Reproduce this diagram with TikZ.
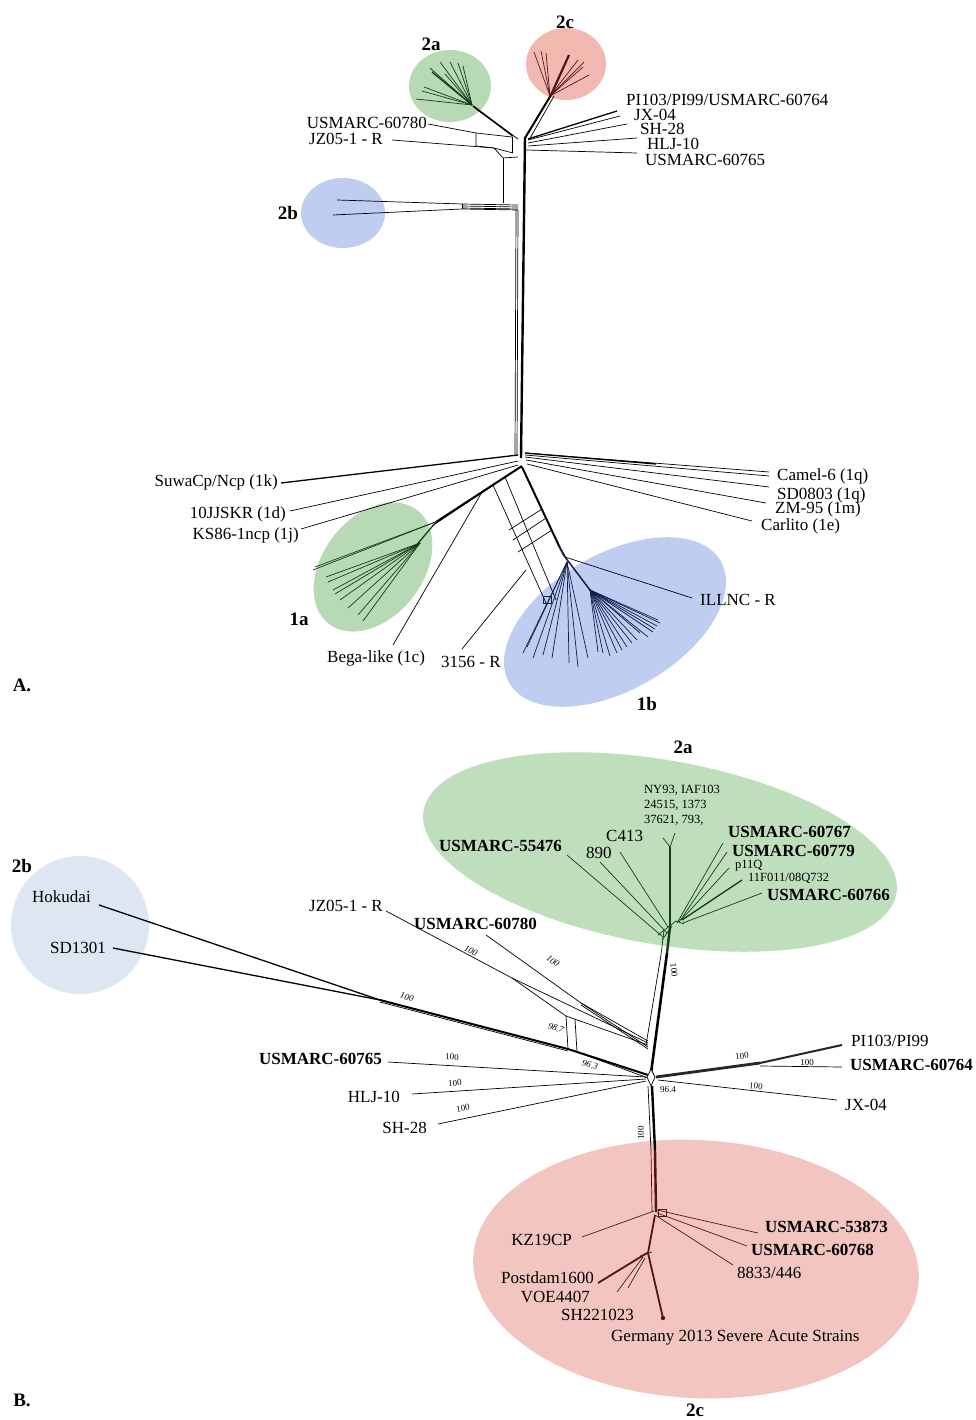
\documentclass[tikz,border=0pt]{standalone}
\usepackage{fontspec}
\setmainfont{Liberation Serif}
\definecolor{gA}{RGB}{183,218,180}
\definecolor{rA}{RGB}{242,185,176}
\definecolor{bA}{RGB}{190,205,240}
\definecolor{gB}{RGB}{190,222,188}
\definecolor{bB}{RGB}{222,230,242}
\definecolor{rB}{RGB}{243,197,192}
\definecolor{dg}{RGB}{20,60,25}
\definecolor{dr}{RGB}{85,20,20}
\definecolor{db}{RGB}{15,30,75}
\begin{document}
\begin{tikzpicture}[x=1pt,y=-1pt,
  lbl/.style={font=\fontsize{17}{17}\selectfont, inner sep=0pt},
  blbl/.style={font=\fontsize{17}{17}\selectfont\bfseries, inner sep=0pt},
  slbl/.style={font=\fontsize{12.5}{15}\selectfont, inner sep=0pt},
  grp/.style={font=\fontsize{19}{19}\selectfont\bfseries, inner sep=0pt},
  boot/.style={font=\fontsize{9}{9}\selectfont, inner sep=0pt},
  bootit/.style={font=\fontsize{9}{9}\selectfont\itshape, inner sep=0pt},
  br/.style={line width=0.7pt},
  brm/.style={line width=1.3pt},
  brt/.style={line width=2.2pt},
]
\useasboundingbox (0,0) rectangle (976,1420);
\fill[white] (0,0) rectangle (976,1420);

% ================= PANEL A =================
% groups
\fill[rA] (566,64) ellipse [x radius=40pt, y radius=36pt];
\fill[gA] (450,86) ellipse [x radius=41pt, y radius=36pt];
\fill[bA] (343,213) ellipse [x radius=42pt, y radius=35pt];
\fill[gA, rotate around={52:(373,567)}] (373,567) ellipse [x radius=72pt, y radius=50pt];
\fill[bA, rotate around={30:(615,622)}] (615,622) ellipse [x radius=122pt, y radius=68pt];

% trunk
\draw[line width=2.4pt] (525,137) -- (521,458);
\draw[br] (518,210) -- (517,456);
\draw[br] (516,210) -- (515,456);

% 2c branch
\draw[line width=2pt] (525,138) -- (551,95);
\draw[br] (529,140) -- (554,96);
\draw[line width=2.2pt, dr] (551,95) -- (569,55);
\foreach \e in {(534,52),(541,51),(546,53),(578,60),(584,62),(583,67),(589,75)}
  \draw[br, dr] (550,96) -- \e;

% 2a branch
\draw[line width=1.6pt] (513,136) -- (473,106);
\draw[br] (518,139) -- (476,109);
\foreach \e in {(430,68),(440,62),(450,62),(458,63),(463,66),(445,74),(424,87),(422,91),(416,99)}
  \draw[br, dg] (472,105) -- \e;
\draw[line width=1.4pt, dg] (472,105) -- (432,72);

% right labels top
\node[lbl,anchor=west] (aPI) at (626,100) {PI103/PI99/USMARC-60764};
\node[lbl,anchor=west] (aJX) at (634,115) {JX-04};
\node[lbl,anchor=west] (aSH) at (640,129) {SH-28};
\node[lbl,anchor=west] (aHLJ) at (647,144) {HLJ-10};
\node[lbl,anchor=west] (a65) at (645,160) {USMARC-60765};
\draw[brm] (528,139) -- (617,111);
\draw[br] (528,140) -- (620,116);
\draw[br] (528,143) -- (627,124);
\draw[br] (528,146) -- (637,138);
\draw[br] (526,150) -- (637,153);

% left labels top
\node[lbl,anchor=east] (a80) at (427,123) {USMARC-60780};
\node[lbl,anchor=east] (aJZ) at (383,139) {JZ05-1 - R};
\draw[br] (428,124) -- (476,133) -- (512,137);
\draw[br] (392,140) -- (494,148) -- (513,153);
\draw[br] (476,133) -- (476,146) -- (494,148);
\draw[br] (512,137) -- (512,153);
\draw[br] (494,148) -- (503,158) -- (518,157);
\draw[br] (503,158) -- (503,203);

% 2b branch A
\draw[br] (337,200) -- (462,204) -- (518,205);
\draw[br] (333,215) -- (462,209) -- (518,210);
\draw[br] (462,204) -- (462,209);
\draw[br] (462,206) -- (518,207);
\draw[br] (462,208) -- (518,209);

% bottom hub
\node[lbl,anchor=east] (aSuwa) at (278,482) {SuwaCp/Ncp (1k)};
\node[lbl,anchor=east] (a10J) at (286,514) {10JJSKR (1d)};
\node[lbl,anchor=east] (aKS) at (299,535) {KS86-1ncp (1j)};
\draw[brm] (281,483) -- (518,455);
\draw[br] (290,511) -- (518,461);
\draw[br] (301,529) -- (518,465);

\node[lbl,anchor=west] (aCam) at (777,476) {Camel-6 (1q)};
\node[lbl,anchor=west] (aSD) at (777,495) {SD0803 (1q)};
\node[lbl,anchor=west] (aZM) at (775,509) {ZM-95 (1m)};
\node[lbl,anchor=west] (aCar) at (761,526) {Carlito (1e)};
\draw[brm] (525,453) -- (656,464);
\draw[br] (525,453) -- (769,472);
\draw[br] (525,455) -- (769,476);
\draw[br] (525,457) -- (769,487);
\draw[br] (526,460) -- (766,503);
\draw[br] (527,464) -- (752,521);

% 1a
\draw[line width=2pt] (522,466) -- (436,522);
\draw[br] (516,470) -- (432,526);
\foreach \e in {(313,570),(315,567)}
  \draw[br, dg] (438,521) -- \e;
\draw[line width=1.3pt, dg] (436,522) -- (414,548);
\foreach \e in {(326,577),(328,582),(333,590),(335,594),(340,600),(348,608),(358,615),(363,621)}
  \draw[br, dg] (420,543) -- \e;

% reticulation 1c / 3156
\node[lbl,anchor=west] (aBega) at (327,658) {Bega-like (1c)};
\node[lbl,anchor=west] (a3156) at (441,662) {3156 - R};
\draw[br] (393,645) -- (482,492);
\draw[br] (493,485) -- (546,603);
\draw[br] (505,477) -- (556,600);
\draw[br] (509,530) -- (542,509);
\draw[br] (513,540) -- (546,518);
\draw[br] (518,552) -- (552,530);
\draw[br] (462,649) -- (526,570);

% 1b
\draw[line width=2pt] (522,467) -- (560,548);
\draw[line width=2pt, db] (560,548) -- (565,557);
\node[lbl,anchor=west] (aILL) at (700,600) {ILLNC - R};
\draw[br] (565,557) -- (692,598);
\draw[line width=1.5pt, db] (565,557) -- (590,590);
\foreach \e in {(523,653),(527,647),(533,658),(543,655),(552,658),(569,663),(578,667),(588,658)}
  \draw[br, db] (567,562) -- \e;
\foreach \e in {(658,620),(660,623),(657,626),(655,629),(653,632),(648,637),(640,633),(637,640),(632,643),(627,647),(622,650),(617,653),(610,656),(603,653),(598,652)}
  \draw[br, db] (590,590) -- \e;
\draw[br, db] (543,596) rectangle (551,603);

% group labels A
\node[grp] (l2cA) at (565,22) {2c};
\node[grp] (l2aA) at (431,44) {2a};
\node[grp] (l2bA) at (288,213) {2b};
\node[grp] (l1a) at (299,619) {1a};
\node[grp] (l1b) at (647,704) {1b};
\node[grp] (lA) at (22,685) {A.};

% ================= PANEL B =================
\fill[gB, rotate around={-10:(660,852)}] (660,852) ellipse [x radius=240pt, y radius=92pt];
\fill[bB] (80,925) circle [radius=69pt];
\fill[rB, rotate around={-3:(696,1269)}] (696,1269) ellipse [x radius=223pt, y radius=129pt];

% trunk
\draw[line width=2.6pt] (651,1073) -- (667,953);
\draw[br] (646,1045) -- (661,955);
\draw[line width=2.4pt, dg] (667,953) -- (670,927);
\draw[br, dg] (661,955) -- (664,930);

% 2a cluster
\draw[line width=2.2pt, dg] (670,927) -- (670,847);
\draw[br, dg] (670,847) -- (663,838);
\draw[br, dg] (670,847) -- (675,833);
\node[slbl, anchor=north west, align=left] (bNY) at (644,785) {NY93, IAF103\\24515, 1373\\37621, 793,};
\node[blbl,anchor=east] (b55) at (562,846) {USMARC-55476};
\node[lbl,anchor=west] (b890) at (586,853) {890};
\node[lbl,anchor=west] (bC413) at (606,836) {C413};
\node[blbl,anchor=west] (b67) at (728,832) {USMARC-60767};
\node[blbl,anchor=west] (b79) at (732,851) {USMARC-60779};
\node[slbl,anchor=west] (bp11) at (735,866) {p11Q};
\node[slbl,anchor=west] (b11F) at (748,878) {11F011/08Q732};
\node[blbl,anchor=west] (b66) at (767,895) {USMARC-60766};
\draw[br, dg] (567,855) -- (663,937);
\draw[br, dg] (600,862) -- (667,933);
\draw[br, dg] (620,852) -- (668,927);
\draw[br, dg] (723,843) -- (677,923);
\draw[br, dg] (727,852) -- (679,922);
\draw[br, dg] (729,868) -- (681,920);
\draw[brm, dg] (742,880) -- (682,920);
\draw[br, dg] (762,893) -- (683,923);
\draw[br, dg] (658,935) -- (676,921) -- (684,924);
\draw[br, dg] (662,940) -- (672,926);

% 2b branch B
\node[lbl,anchor=west] (bHok) at (32,897) {Hokudai};
\node[lbl,anchor=west] (bSD) at (50,948) {SD1301};
\draw[brm] (99,905) -- (380,1000);
\draw[brm] (113,948) -- (380,1000);
\draw[line width=2pt] (380,1000) -- (568,1049) -- (648,1075);
\draw[br] (380,1002) -- (568,1051);

% JZ05 / 60780
\node[lbl,anchor=east] (bJZ) at (383,906) {JZ05-1 - R};
\node[blbl,anchor=west] (b80) at (414,924) {USMARC-60780};
\draw[br] (386,911) -- (512,978) -- (648,1043);
\draw[br] (512,978) -- (566,1016) -- (648,1045);
\draw[br] (486,935) -- (581,1003) -- (648,1041);
\draw[br] (581,1003) -- (648,1047);
\draw[br] (581,1005) -- (648,1049);
\draw[br] (566,1016) -- (568,1049);
\draw[br] (575,1019) -- (577,1052);
\draw[br] (577,1052) -- (648,1078);

% left labels B
\node[blbl,anchor=east] (b65) at (382,1059) {USMARC-60765};
\node[lbl,anchor=east] (bHLJ) at (400,1097) {HLJ-10};
\node[lbl,anchor=east] (bSH) at (427,1128) {SH-28};
\draw[br] (388,1062) -- (646,1077);
\draw[br] (412,1094) -- (646,1079);
\draw[br] (438,1124) -- (646,1081);

% hub
\draw[br, fill=white] (651,1069) -- (655,1077) -- (651,1086) -- (647,1077) -- cycle;

% right B
\node[lbl,anchor=west] (bPI) at (851,1041) {PI103/PI99};
\node[blbl,anchor=west] (b64) at (850,1065) {USMARC-60764};
\node[lbl,anchor=west] (bJX) at (845,1105) {JX-04};
\draw[line width=2.8pt, black!85] (656,1077) -- (760,1063);
\draw[line width=2pt, black!85] (760,1063) -- (842,1045);
\draw[br] (760,1066) -- (842,1067);
\draw[br] (658,1080) -- (837,1100);

% lower trunk
\draw[line width=2.4pt] (652,1086) -- (655,1150);
\draw[br] (648,1086) -- (651,1150);
\draw[line width=2.4pt, dr] (655,1150) -- (656,1212);
\draw[br, dr] (651,1150) -- (652,1212);

% 2c cluster B
\node[lbl,anchor=east] (bKZ) at (572,1240) {KZ19CP};
\node[blbl,anchor=west] (b53) at (765,1227) {USMARC-53873};
\node[blbl,anchor=west] (b68) at (751,1250) {USMARC-60768};
\node[lbl,anchor=west] (b88) at (737,1273) {8833/446};
\node[lbl,anchor=east] (bPo) at (594,1278) {Postdam1600};
\node[lbl,anchor=east] (bVO) at (590,1297) {VOE4407};
\node[lbl,anchor=east] (bSH2) at (634,1315) {SH221023};
\node[lbl,anchor=west] (bGer) at (611,1338) {Germany 2013 Severe Acute Strains};
\draw[br, dr] (657,1210) -- (758,1233);
\draw[br, dr] (657,1213) -- (747,1246);
\draw[br, dr] (655,1215) -- (733,1265);
\draw[br, dr] (582,1237) -- (654,1211);
\draw[br, dr] (658,1209) rectangle (666,1216);
\draw[line width=1.8pt, dr] (655,1215) -- (648,1253);
\draw[line width=1.8pt, dr] (598,1283) -- (647,1253);
\draw[br, dr] (617,1292) -- (643,1257);
\draw[br, dr] (628,1288) -- (645,1258);
\draw[br, dr] (640,1256) -- (652,1252);
\draw[line width=1.8pt, dr] (648,1253) -- (663,1318);
\fill[dr] (663,1318) circle [radius=2.2pt];

% bootstrap values
\node[bootit, rotate=-26] (bs1) at (471,951) {100};
\node[bootit, rotate=-35] (bs2) at (553,961) {100};
\node[bootit, rotate=-17] (bs3) at (407,997) {100};
\node[bootit, rotate=-20] (bs4) at (556,1028) {98.7};
\node[bootit, rotate=-15] (bs5) at (590,1065) {96.3};
\node[boot, rotate=-3] (bs6) at (452,1057) {100};
\node[boot, rotate=4] (bs7) at (455,1083) {100};
\node[boot, rotate=10] (bs8) at (463,1108) {100};
\node[boot, rotate=-85] (bs9) at (674,970) {100};
\node[boot, rotate=90] (bs10) at (641,1133) {100};
\node[boot] (bs11) at (668,1090) {96.4};
\node[boot, rotate=8] (bs12) at (742,1056) {100};
\node[boot] (bs13) at (807,1063) {100};
\node[boot, rotate=-7] (bs14) at (756,1086) {100};

% group labels B
\node[grp] (l2aB) at (683,747) {2a};
\node[grp] (l2bB) at (22,866) {2b};
\node[grp] (l2cB) at (695,1410) {2c};
\node[grp] (lB) at (22,1400) {B.};
\end{tikzpicture}
\end{document}
